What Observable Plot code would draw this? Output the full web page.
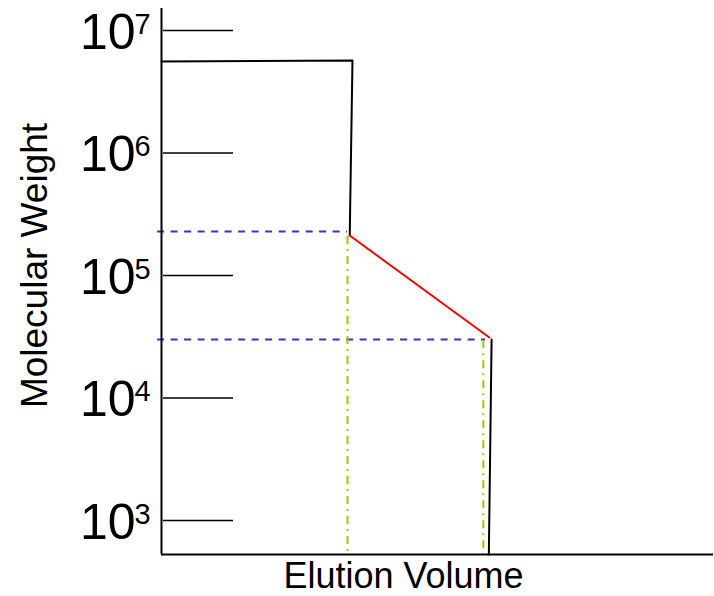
<!DOCTYPE html>
<html>
<head>
<meta charset="utf-8">
<script src="https://cdn.jsdelivr.net/npm/d3@7"></script>
<script src="https://cdn.jsdelivr.net/npm/@observablehq/plot@0.6"></script>
<style>
  html, body { margin: 0; padding: 0; background: #fff; }
  svg { display: block; }
</style>
</head>
<body>
<div id="chart"></div>
<script>
// ---- data ----
const yTickValues = [1e3, 1e4, 1e5, 1e6, 1e7];
const yTickBase = ["10", "10", "10", "10", "10"];
const yTickExponents = ["3", "4", "5", "6", "7"];

const xDomain = [0, 100];
const yDomain = [528, 1.513e7];

// exclusion limit step (black, upper)
const upperX = [0, 34.6, 34.1];
const upperY = [5.58e6, 5.69e6, 2.12e5];
// calibration (red)
const calibX = [34.1, 59.4];
const calibY = [2.12e5, 3.12e4];
// total permeation drop (black, lower)
const lowerX = [59.8, 59.3];
const lowerY = [3.01e4, 528];

// blue dashed reference lines (molecular weight)
const refMW = [2.29e5, 3.01e4];
const refMWStart = [-0.7, -0.7];
const refMWEnd = [33.7, 58.7];
// green dash-dot reference lines (elution volume)
const refVol = [33.7, 58.3];
const refVolTop = [2.08e5, 2.94e4];
const refVolBottom = [528, 528];

const xLabel = "Elution Volume";
const yLabel = "Molecular Weight";

// ---- tables ----
const upper = upperX.map((x, i) => ({x, y: upperY[i]}));
const calib = calibX.map((x, i) => ({x, y: calibY[i]}));
const lower = lowerX.map((x, i) => ({x, y: lowerY[i]}));
const hRefs = refMW.map((y, i) => ({y, x1: refMWStart[i], x2: refMWEnd[i]}));
const vRefs = refVol.map((x, i) => ({x, y1: refVolTop[i], y2: refVolBottom[i]}));
const ticks = yTickValues.map((v, i) => ({v, base: yTickBase[i], exp: yTickExponents[i]}));

const font = "'Liberation Sans', Arial, sans-serif";

const chart = Plot.plot({
  width: 714,
  height: 596,
  marginLeft: 161,
  marginRight: 1,
  marginTop: 8,
  marginBottom: 42,
  style: {fontFamily: font, background: "#fff", color: "#000", overflow: "visible"},
  x: {domain: xDomain, axis: null},
  y: {type: "log", domain: yDomain, axis: null},
  marks: [
    // inward tick lines
    Plot.ruleY(ticks, {y: "v", insetLeft: 2, insetRight: 480, stroke: "#000", strokeWidth: 1.6}),
    // tick labels 10^n
    Plot.text(ticks, {y: "v", text: "base", frameAnchor: "left", textAnchor: "end", lineAnchor: "middle",
      dx: -26, dy: 2, fontSize: 50, fill: "#000"}),
    Plot.text(ticks, {y: "v", text: "exp", frameAnchor: "left", textAnchor: "start", lineAnchor: "bottom",
      dx: -27, dy: 3, fontSize: 29, fill: "#000"}),
    // reference lines
    Plot.ruleY(hRefs, {y: "y", x1: "x1", x2: "x2", stroke: "#3333cc", strokeWidth: 2, strokeDasharray: "7,6.5"}),
    Plot.ruleX(vRefs, {x: "x", y1: "y1", y2: "y2", stroke: "#99cc00", strokeWidth: 2, strokeDasharray: "8,5,2,5"}),
    // curves
    Plot.line(upper, {x: "x", y: "y", stroke: "#000", strokeWidth: 2}),
    Plot.line(calib, {x: "x", y: "y", stroke: "#ff0000", strokeWidth: 2}),
    Plot.line(lower, {x: "x", y: "y", stroke: "#000", strokeWidth: 2}),
    // axis lines
    Plot.ruleX([xDomain[0]], {stroke: "#000", strokeWidth: 2}),
    Plot.ruleY([yDomain[0]], {stroke: "#000", strokeWidth: 2.2}),
    // axis titles
    Plot.text([xLabel], {frameAnchor: "bottom", textAnchor: "middle", lineAnchor: "top", dx: -34, dy: 8, fontSize: 36, fill: "#000"}),
    Plot.text([yLabel], {frameAnchor: "left", textAnchor: "middle", rotate: -90, lineAnchor: "bottom", dx: -115, dy: -16, fontSize: 37, fill: "#000"})
  ]
});
document.getElementById("chart").appendChild(chart);
</script>
</body>
</html>
